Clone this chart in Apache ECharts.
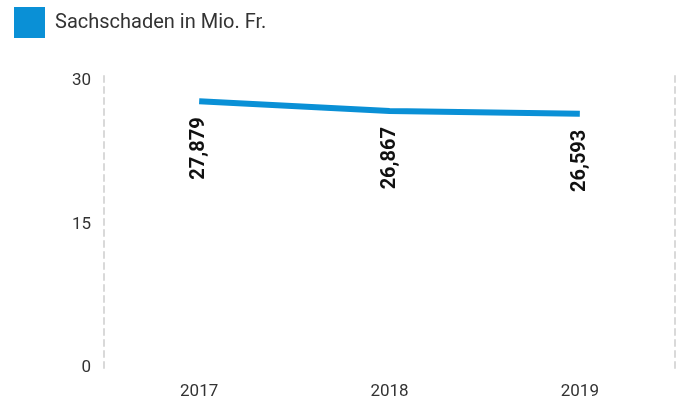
<html>
  <head>
    <meta charset="UTF-8" />
    <script src="https://cdn.jsdelivr.net/npm/echarts/dist/echarts.min.js"></script>
    <style>
      html, body { margin: 0; padding: 0; background: #fff; }
      #main { width: 681px; height: 403px; }
    </style>
  </head>
  <body>
    <div id="main"></div>
    <script>
      // data
      const years = ['2017', '2018', '2019'];
      const sachschaden = [27.879, 26.867, 26.593];
      const seriesName = 'Sachschaden in Mio. Fr.';

      const dashed = { show: true, lineStyle: { color: '#d9d9d9', width: 2, type: [6, 5] } };

      const chart = echarts.init(document.getElementById('main'));
      chart.setOption({
        animation: false,
        textStyle: { fontFamily: 'Roboto, sans-serif' },
        legend: {
          left: 14,
          top: 7,
          padding: 0,
          itemWidth: 31,
          itemHeight: 31,
          icon: 'rect',
          data: [seriesName],
          textStyle: { fontSize: 20, color: '#333', padding: [0, 0, 0, 5] }
        },
        grid: { left: 104, right: 6, top: 71, bottom: 35 },
        xAxis: {
          type: 'category',
          data: years,
          axisLine: { show: false },
          axisTick: { show: false },
          axisLabel: { color: '#333', fontSize: 17, margin: 15 }
        },
        yAxis: [
          {
            type: 'value',
            min: 0,
            max: 31.05,
            interval: 15,
            axisLine: dashed,
            axisTick: { show: false },
            splitLine: { show: false },
            axisLabel: {
              color: '#333',
              fontSize: 17,
              margin: 13,
              formatter: v => (v % 15 === 0 ? String(v) : '')
            }
          },
          {
            type: 'value',
            position: 'right',
            min: 0,
            max: 31.05,
            interval: 15,
            axisLine: dashed,
            axisTick: { show: false },
            splitLine: { show: false },
            axisLabel: { show: false }
          }
        ],
        series: [
          {
            name: seriesName,
            type: 'line',
            data: sachschaden,
            symbol: 'circle',
            symbolSize: 0.1,
            showSymbol: true,
            itemStyle: { color: '#0a90d6' },
            lineStyle: { color: '#0a90d6', width: 6 },
            label: {
              show: true,
              position: 'bottom',
              distance: 16,
              rotate: 90,
              align: 'right',
              verticalAlign: 'middle',
              color: '#111',
              fontWeight: 'bold',
              fontSize: 20,
              formatter: p => p.value.toFixed(3).replace('.', ',')
            }
          }
        ]
      });
    </script>
  </body>
</html>
